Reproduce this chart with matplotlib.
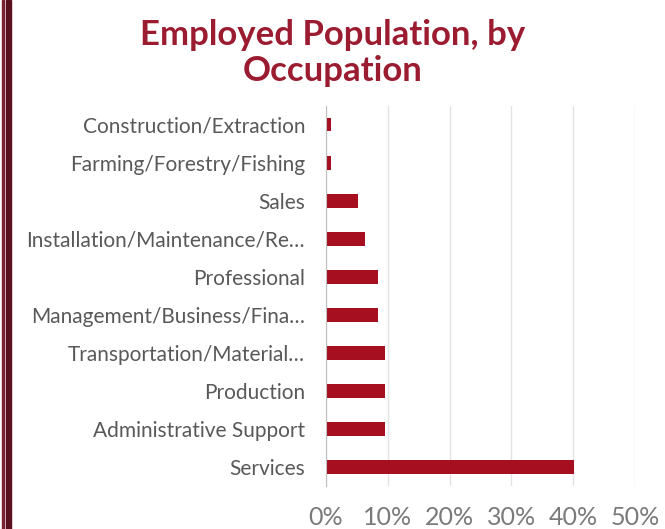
import matplotlib.pyplot as plt
from matplotlib.patches import Rectangle
from matplotlib.ticker import FuncFormatter

occupations = [
    "Services",
    "Administrative Support",
    "Production",
    "Transportation/Material…",
    "Management/Business/Fina…",
    "Professional",
    "Installation/Maintenance/Re…",
    "Sales",
    "Farming/Forestry/Fishing",
    "Construction/Extraction",
]
shares = [40.2, 9.5, 9.5, 9.5, 8.4, 8.4, 6.3, 5.2, 0.8, 0.8]
x_ticks = [0, 10, 20, 30, 40, 50]

bar_color = "#a50f1f"
title_color = "#9b1b30"
text_color = "#595959"

plt.rcParams["font.family"] = ["Lato", "DejaVu Sans"]

fig = plt.figure(figsize=(6.65, 5.29), dpi=100)
ax = fig.add_axes([0.490, 0.081, 0.465, 0.719])

ax.barh(range(len(occupations)), shares, height=0.35, color=bar_color, zorder=3)
ax.set_yticks(range(len(occupations)))
ax.set_yticklabels(occupations, fontsize=15, color=text_color)
ax.set_ylim(-0.5, len(occupations) - 0.5)

ax.set_xlim(0, 50)
ax.set_xticks(x_ticks)
ax.xaxis.set_major_formatter(FuncFormatter(lambda v, p: f"{v:.0f}%"))
ax.tick_params(axis="x", labelsize=18, colors="#7a7a7a", length=0, pad=14)
ax.tick_params(axis="y", length=0, pad=15)
ax.grid(axis="x", color="#e3e3e3", linewidth=1, zorder=0)

for side in ["top", "right", "bottom"]:
    ax.spines[side].set_visible(False)
ax.spines["left"].set_color("#bfbfbf")
ax.spines["left"].set_zorder(4)

fig.text(0.50, 0.900, "Employed Population, by\nOccupation", ha="center", va="center",
         fontsize=25, fontweight="bold", color=title_color, linespacing=1.15)

# maroon double rule along the left edge
fig.add_artist(Rectangle((0.003, 0), 0.003, 1, transform=fig.transFigure, color="#7a2030"))
fig.add_artist(Rectangle((0.009, 0), 0.008, 1, transform=fig.transFigure, color="#5a0f1e"))

fig.savefig("out.png", dpi=100)
